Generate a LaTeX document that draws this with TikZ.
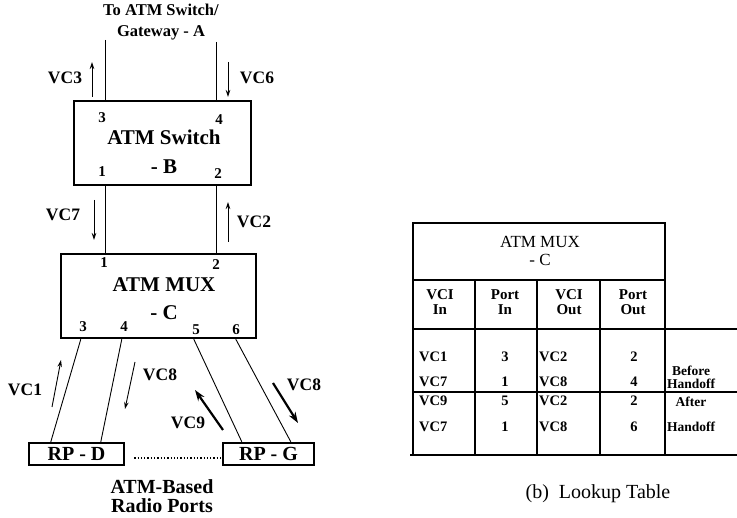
\documentclass[tikz,border=0pt]{standalone}
\usepackage{fontspec}
\setmainfont{Liberation Serif}
\usetikzlibrary{arrows.meta,positioning,calc}

\begin{document}
\begin{tikzpicture}[
  x=1pt,y=-1pt,
  box/.style={draw,line width=2.4pt,inner sep=0pt},
  lbl/.style={font=\bfseries\fontsize{17.5}{18}\selectfont,inner sep=0pt},
  port/.style={font=\bfseries\fontsize{15}{15}\selectfont,inner sep=0pt},
  link/.style={line width=0.9pt},
  ar/.style={-{Stealth[length=7pt,width=4.5pt]},line width=0.9pt},
  bigar/.style={-{Stealth[length=11pt,width=7.5pt]},line width=2.2pt},
  tab/.style={font=\bfseries\fontsize{14.5}{15}\selectfont,inner sep=0pt},
  grid/.style={line width=1.3pt}
]
\useasboundingbox (0,0) rectangle (737,518);

% switch B and mux C
\node[box,minimum width=177pt,minimum height=84pt] (sw) at (162.5,143) {};
\node[box,minimum width=195pt,minimum height=84pt] (mux) at (158.5,296) {};
\node[align=center,inner sep=0pt,font=\bfseries\fontsize{21}{29}\selectfont] (swname)
      at (164,152) {ATM Switch\\- B};
\node[align=center,inner sep=0pt,font=\bfseries\fontsize{21}{28}\selectfont] (muxname)
      at (164,299) {ATM MUX\\- C};
\node[align=center,inner sep=0pt,font=\bfseries\fontsize{16.5}{21}\selectfont] (gw) at (161,22)
      {To ATM Switch/\\Gateway - A};

% ports
\node[port] (sw3) at (102,118) {3};
\node[port] (sw4) at (219,120) {4};
\node[port] (sw1) at (102,172) {1};
\node[port] (sw2) at (218,174) {2};
\node[port] (mx1) at (104,263) {1};
\node[port] (mx2) at (216,265) {2};
\node[port] (mx3) at (83,327) {3};
\node[port] (mx4) at (124,327) {4};
\node[port] (mx5) at (196,330) {5};
\node[port] (mx6) at (236,330) {6};

% radio ports
\node[box,minimum width=95pt,minimum height=22pt,font=\bfseries\fontsize{20}{20}\selectfont]
      (rpd) at (76.5,454) {RP - D};
\node[box,minimum width=91pt,minimum height=22pt,font=\bfseries\fontsize{20}{20}\selectfont]
      (rpg) at (268.5,454) {RP - G};
\node[align=center,inner sep=0pt,font=\bfseries\fontsize{20}{19}\selectfont] (rpname)
      at (162,496) {ATM-Based\\Radio Ports};

% links
\coordinate (gw3) at (105,40);
\coordinate (gw4) at (216,42);
\draw[link] (gw3) -- (gw3 |- sw.north);
\draw[link] (gw4) -- (gw4 |- sw.north);
\draw[link] (sw.south -| gw3) -- (mux.north -| gw3);
\draw[link] (sw.south -| gw4) -- (mux.north -| gw4);
\draw[link] ([xshift=21pt]mux.south west) -- ([xshift=23pt]rpd.north west);
\draw[link] ([xshift=62pt]mux.south west) -- ([xshift=73pt]rpd.north west);
\draw[link] ([xshift=134pt]mux.south west) -- ([xshift=20pt]rpg.north west);
\draw[link] ([xshift=176pt]mux.south west) -- ([xshift=69pt]rpg.north west);
\draw[dotted,line width=1.3pt] ([xshift=9pt,yshift=-4pt]rpd.east) -- ([yshift=-4pt]rpg.west);

% virtual circuits
\draw[ar] (92,97) -- (92,62);
\node[lbl] (vc3) at (65,78) {VC3};
\draw[ar] (228,62) -- (228,97);
\node[lbl] (vc6) at (257,78) {VC6};
\draw[ar] (94,200) -- (94,240);
\node[lbl] (vc7) at (63,215) {VC7};
\draw[ar] (228,242) -- (228,202);
\node[lbl] (vc2) at (254,222) {VC2};
\draw[ar] (52,407) -- (61,360);
\node[lbl] (vc1) at (25,390) {VC1};
\draw[ar] (135,362) -- (125,409);
\node[lbl] (vc8a) at (160,375) {VC8};
\draw[bigar] (223,430) -- (195,390);
\node[lbl] (vc9) at (188,423) {VC9};
\draw[bigar] (273,383) -- (298,423);
\node[lbl] (vc8b) at (304,385) {VC8};

% lookup table
\draw[grid] (413,223) rectangle (665,455);
\draw[grid] (413,280) -- (665,280);
\draw[grid] (413,329) -- (737,329);
\draw[grid] (413,392) -- (737,392);
\draw[grid] (410,455) -- (737,455);
\foreach \cx in {475,537,600}
  \draw[grid] (\cx,280) -- (\cx,455);
\node[align=center,inner sep=0pt,font=\fontsize{17}{18}\selectfont] (thead)
      at (540,251) {ATM MUX\\- C};
\foreach \cx/\ctxt in {440/{VCI\\In},505/{Port\\In},569/{VCI\\Out},633/{Port\\Out}}
  \node[tab,align=center,font=\bfseries\fontsize{15}{14.5}\selectfont] at (\cx,302) {\ctxt};
\foreach \ry/\va/\pa/\vb/\pb in {357/VC1/3/VC2/2,382/VC7/1/VC8/4,401/VC9/5/VC2/2,427/VC7/1/VC8/6}{
  \node[tab,anchor=west] at (419,\ry) {\va};
  \node[tab] at (505,\ry) {\pa};
  \node[tab,anchor=west] at (539,\ry) {\vb};
  \node[tab] at (634,\ry) {\pb};
}
\node[tab,align=center,font=\bfseries\fontsize{13.5}{13}\selectfont] (before) at (691,377) {Before\\Handoff};
\node[tab,align=center,font=\bfseries\fontsize{13.5}{25}\selectfont] (after) at (691,414) {After\\Handoff};
\node[inner sep=0pt,font=\fontsize{20}{20}\selectfont] (cap) at (598,494) {(b)\enspace Lookup Table};
\end{tikzpicture}
\end{document}
